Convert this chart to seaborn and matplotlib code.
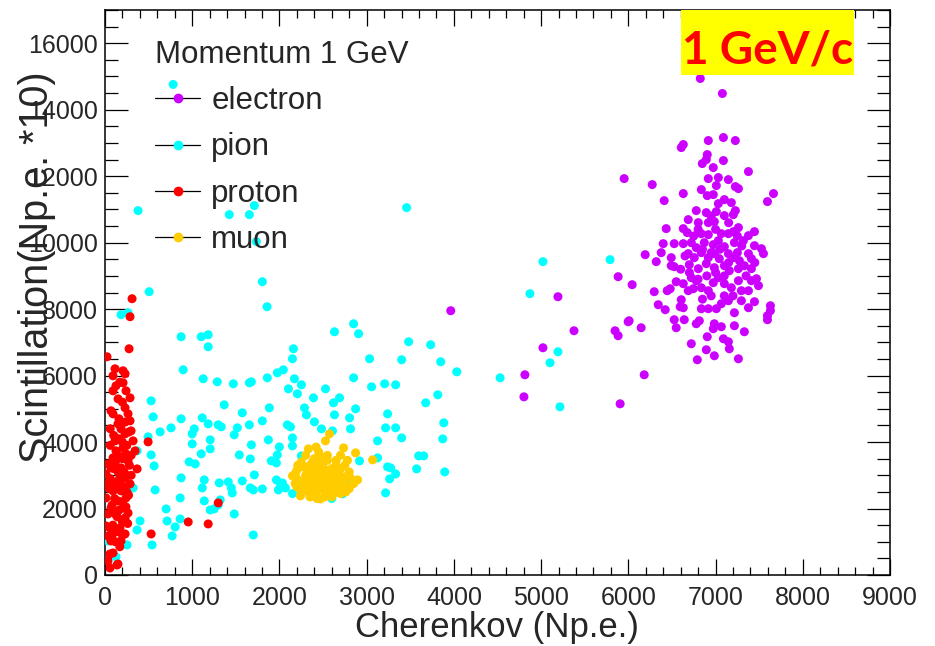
import numpy as np
import pandas as pd
import matplotlib
matplotlib.use("Agg")
import matplotlib.pyplot as plt
import seaborn as sns
from matplotlib.lines import Line2D
from matplotlib.patches import Rectangle
from matplotlib.ticker import MultipleLocator

# ---------------- data (Cherenkov Np.e., Scintillation Np.e.*10) ----------------
species = ["electron", "pion", "proton", "muon"]
colors = {"electron": "#CC00FF", "pion": "#00FFFF", "proton": "#FF0000", "muon": "#FFCC00"}

pion_pts = [
    (781, 14760), (379, 10964), (1425, 10843), (1655, 10843), (1712, 11114), (3458, 11054),
    (1735, 10030), (1804, 8825), (506, 8524), (1858, 8072), (184, 7831), (264, 7891),
    (873, 7169), (1103, 7169), (1183, 7229), (1183, 6867), (896, 6175), (1126, 5904),
    (1287, 5813), (1471, 5753), (1655, 5783), (1678, 5813), (1861, 5934), (1976, 6084),
    (2045, 6175), (2149, 6506), (2160, 6807), (2103, 5602), (529, 5241), (1367, 5120),
    (552, 4759), (873, 4699), (1115, 4729), (1574, 4879), (1884, 5030), (758, 4428),
    (632, 4307), (1023, 4397), (1000, 4247), (1183, 4548), (1298, 4518), (1333, 4458),
    (1517, 4428), (1655, 4518), (1804, 4638), (2091, 4518), (2126, 4458), (494, 4157),
    (1482, 4217), (1206, 4066), (1000, 3946), (1678, 3916), (1873, 4066), (1999, 3855),
    (2149, 4126), (2149, 3885), (368, 3735), (1206, 3795), (529, 3614), (1103, 3645),
    (1540, 3614), (1666, 3494), (1976, 3614), (1907, 3434), (1965, 3373), (965, 3404),
    (1034, 3343), (563, 3283), (1712, 3012), (873, 2922), (1138, 2861), (1310, 2771),
    (1413, 2801), (1448, 2620), (1459, 2470), (1574, 2831), (1666, 2620), (1700, 2560),
    (1804, 2590), (1965, 2861), (2034, 2771), (1988, 2560), (2068, 2620), (575, 2560),
    (1115, 2620), (862, 2319), (1138, 2229), (1321, 2259), (1298, 2108), (1206, 1958),
    (1252, 1988), (701, 1988), (1482, 1837), (712, 1626), (862, 1687), (402, 1626),
    (804, 1446), (368, 1355), (770, 1175), (540, 904), (1700, 1205), (253, 904),
    (34, 1024), (126, 542), (322, 2620),
    (2850, 7560), (2631, 7319), (2907, 7259), (3481, 7018), (3734, 6928), (3033, 6506),
    (3401, 6476), (3849, 6416), (4033, 6114), (4530, 5934), (2172, 5904), (2850, 5934),
    (2252, 5723), (2206, 5452), (2528, 5602), (3056, 5663), (3206, 5753), (3332, 5723),
    (2390, 5331), (2689, 5331), (2620, 5181), (3815, 5422), (3677, 5181), (2287, 5030),
    (2309, 4819), (2873, 5000), (2631, 4819), (3240, 4849), (2804, 4729), (2401, 4608),
    (3884, 4578), (2482, 4397), (2815, 4397), (3217, 4428), (3332, 4428), (2608, 4337),
    (3401, 4126), (3872, 4096), (3125, 4036), (2252, 3584), (3125, 3524), (2918, 3434),
    (3596, 3584), (3654, 3584), (3573, 3193), (3240, 3253), (3275, 3223), (3332, 3042),
    (3263, 2892), (3895, 3102), (3217, 2470), (2723, 2440), (2011, 2741), (2804, 2741),
    (2150, 2450), (2600, 2300),
    (5021, 9428), (5791, 9488), (4872, 8464), (5193, 6717), (5102, 6386), (5216, 5060),
]

proton_pts = [
    (310, 8313), (287, 7771), (276, 6807), (23, 6566), (115, 6205), (207, 6145), (230, 6054),
    (92, 5994), (126, 5693), (92, 5542), (207, 5783), (241, 5542), (287, 5331), (69, 4940),
    (92, 4849), (230, 5030), (264, 4849), (287, 4638), (149, 4548), (184, 4397), (230, 4247),
    (299, 4337), (322, 4036), (345, 3735), (115, 4036), (126, 3735), (92, 3524), (34, 3343),
    (69, 3223), (10, 3042), (207, 3825), (241, 3645), (264, 3434), (184, 3223), (368, 3193),
    (494, 4006), (34, 2741), (92, 2530), (11, 2319), (149, 2831), (230, 2922), (287, 2741),
    (184, 2530), (241, 2319), (149, 2229), (69, 2018), (34, 1837), (115, 1837), (207, 2018),
    (264, 1867), (230, 1717), (57, 1416), (11, 1476), (172, 1416), (230, 1235), (184, 1024),
    (69, 1024), (92, 663), (34, 422), (57, 211), (149, 331), (529, 1235), (34, 1175),
    (1298, 2169), (954, 1596), (1183, 1536), (138, 301), (57, 633),
    (100, 4200), (160, 4100), (200, 4000), (250, 3900), (60, 3900), (150, 3600), (200, 3500),
    (280, 3300), (120, 3400), (170, 3000), (220, 3100), (60, 2900), (120, 2700), (200, 2650),
    (250, 2500), (50, 2600), (110, 2300), (200, 2200), (270, 2400), (80, 2100), (160, 1950),
    (240, 2050), (140, 1750), (200, 1600), (90, 1500), (260, 1550), (130, 1300), (200, 1200),
    (80, 1200), (170, 850), (120, 1000), (240, 3000), (150, 3100), (300, 3600), (270, 4300),
    (160, 4700), (200, 5200), (170, 5800), (150, 5300), (230, 4600), (60, 4400), (300, 3000),
    (100, 3200), (180, 2850), (230, 2650),
]

electron_pts = [
    (3964, 7952), (5193, 8373), (5377, 7349), (5021, 6837), (4814, 6024), (4803, 5361),
    (5883, 8976), (6044, 8735), (5998, 7620), (6147, 7440), (5848, 7349), (5883, 7199),
    (6182, 6024), (5906, 5151), (6825, 14940), (7078, 14488), (6607, 12861), (6630, 12952),
    (6917, 13072), (7090, 13162), (7227, 13072), (6905, 12650), (6894, 12500), (6848, 12379),
    (6974, 12259), (7090, 12470), (7377, 12138), (5952, 11927), (6274, 11747), (6917, 11927),
    (7032, 11958), (7147, 11897), (6837, 11596), (7009, 11717), (7227, 11687), (7262, 11626),
    (6630, 11476), (6905, 11415), (6974, 11446), (7664, 11476), (7595, 11235), (6411, 11265),
    (7101, 11295), (7181, 11204), (7032, 11174), (6779, 10964), (6894, 10903), (7009, 10934),
    (7227, 10964), (7204, 10843), (6687, 10693), (7101, 10813), (6802, 10602), (6917, 10602),
    (6986, 10632), (6434, 10422), (6630, 10422), (6676, 10301), (7262, 10452), (7204, 10331),
    (7446, 10331), (7377, 10211), (6837, 10271), (6917, 10241), (7066, 10271), (7147, 10271),
    (6400, 9970), (6526, 9970), (6630, 9970), (6722, 10000), (6779, 9849), (6871, 10000),
    (6974, 9940), (7032, 10060), (7101, 9879), (7216, 10000), (7319, 10060), (7446, 9909),
    (7526, 9819), (7549, 9669), (6193, 9638), (6377, 9699), (6320, 9428), (6492, 9548),
    (6526, 9277), (6492, 9307), (6687, 9669), (6756, 9548), (6837, 9699), (6917, 9548),
    (6986, 9669), (7043, 9518), (7147, 9669), (7204, 9548), (7273, 9458), (7377, 9669),
    (7411, 9518), (6699, 9337), (6802, 9217), (6894, 9367), (6986, 9247), (7101, 9307),
    (7158, 9156), (7262, 9217), (7330, 9307), (7411, 9217), (6297, 8524), (6446, 8554),
    (6480, 8614), (6549, 8825), (6630, 8765), (6722, 8946), (6779, 8855), (6745, 8614),
    (6687, 8554), (6837, 8644), (6917, 8554), (6974, 8795), (7032, 8946), (7101, 8765),
    (7181, 8644), (7262, 8855), (7296, 8554), (7377, 8554), (7411, 8855), (7492, 8705),
    (7469, 8915), (6607, 8283), (6595, 8072), (6630, 8042), (6343, 8132), (6423, 7982),
    (6837, 8012), (6917, 8012), (7009, 8012), (7066, 8162), (7147, 8253), (7216, 7891),
    (7296, 8253), (7377, 8042), (7446, 8223), (7629, 8102), (7629, 7952), (7595, 7801),
    (7595, 7681), (6009, 7650), (6526, 7681), (6549, 7440), (6641, 7681), (6779, 7560),
    (6814, 7650), (6986, 7560), (7066, 7470), (6974, 7410), (7216, 7500), (7330, 7319),
    (6722, 6958), (6791, 6476), (6905, 7169), (6894, 6777), (6986, 6596), (7090, 7108),
    (7147, 7018), (7158, 6807), (7262, 6506),
    (6750, 10200), (6850, 9800), (6950, 9700), (7050, 9800), (7150, 9400), (7250, 9700),
    (7000, 9100), (6900, 9000), (7100, 9000), (7200, 8400), (6850, 8300), (6700, 9100),
    (6650, 9600), (7350, 9000), (7300, 9900), (6800, 10400), (7000, 10400), (7150, 10600),
    (6950, 10800), (7250, 10200), (6600, 9200), (7450, 9400), (7100, 8400), (6950, 8400),
    (6800, 8900),
]

muon_pts = [
    (2574, 4247), (2528, 4036), (2332, 3795), (2735, 3825), (2873, 3675), (3068, 3464),
    (2896, 2861), (2149, 2982), (2180, 2750), (2200, 3150), (2240, 2380), (2470, 2289),
    (2350, 2350), (2600, 2350), (2700, 2450), (2800, 2600), (2850, 2750), (2250, 3400),
    (2300, 3600), (2400, 3500), (2450, 3700), (2550, 3600), (2650, 3450), (2750, 3300),
    (2800, 3100), (2700, 2900), (2300, 3000), (2350, 2800), (2400, 3200), (2450, 2600),
    (2500, 3000), (2550, 2800), (2600, 3200), (2650, 2700), (2500, 3350), (2350, 3300),
    (2280, 2600), (2420, 2450), (2580, 2550), (2680, 3100), (2480, 2750), (2380, 2950),
    (2620, 2950), (2550, 3450), (2450, 3050), (2200, 2900), (2260, 2800), (2320, 3100),
    (2520, 2500), (2750, 2700), (2600, 3050), (2400, 2700), (2480, 3250), (2700, 3600),
    (2420, 3850), (2560, 2650), (2330, 2500), (2640, 2850), (2500, 2900), (2460, 3400),
    (2780, 3450), (2210, 3300), (2360, 3050), (2540, 3150), (2660, 2550),
    (2300, 2700), (2350, 2600), (2400, 2400), (2450, 2850), (2500, 2650), (2550, 2400),
    (2600, 2600), (2650, 3000), (2700, 2650), (2750, 2950), (2250, 2500), (2300, 2850),
    (2350, 3150), (2400, 3000), (2450, 3250), (2500, 3100), (2550, 2950), (2600, 2800),
    (2650, 3300), (2700, 3200), (2280, 3250), (2380, 3400), (2430, 2300), (2520, 2350),
    (2620, 2450), (2200, 2650), (2180, 3050), (2760, 2500), (2820, 2900), (2480, 3550),
]

x_ticks = [0, 1000, 2000, 3000, 4000, 5000, 6000, 7000, 8000, 9000]
y_ticks = [0, 2000, 4000, 6000, 8000, 10000, 12000, 14000, 16000]

# ---------------- build table ----------------
frames = []
for name, pts in [("pion", pion_pts), ("proton", proton_pts),
                  ("electron", electron_pts), ("muon", muon_pts)]:
    arr = np.array(pts, dtype=float)
    frames.append(pd.DataFrame({"cherenkov": arr[:, 0], "scint": arr[:, 1], "particle": name}))
df = pd.concat(frames, ignore_index=True)

# ---------------- style ----------------
sns.set_theme(style="white")
plt.rcParams["font.family"] = ["Liberation Sans", "DejaVu Sans"]

fig = plt.figure(figsize=(9.35, 6.46), dpi=100)
fig.patch.set_facecolor("white")
ax = fig.add_axes([105 / 935, 1 - 575 / 646, 785 / 935, 565 / 646])

sns.scatterplot(data=df, x="cherenkov", y="scint", hue="particle", palette=colors,
                s=42, linewidth=0, legend=False, ax=ax, zorder=3)

ax.set_xlim(0, 9000)
ax.set_ylim(0, 17000)
ax.set_xticks(x_ticks)
ax.set_yticks(y_ticks)
ax.set_xticklabels([str(v) for v in x_ticks])
ax.set_yticklabels([str(v) for v in y_ticks])
ax.xaxis.set_minor_locator(MultipleLocator(200))
ax.yaxis.set_minor_locator(MultipleLocator(500))
ax.set_xlabel("")
ax.set_ylabel("")

for sp in ax.spines.values():
    sp.set_color("black")
    sp.set_linewidth(1.1)

ax.tick_params(axis="both", which="both", direction="in", top=True, right=True,
               bottom=True, left=True, color="black", width=0.9, labelsize=18)
ax.tick_params(axis="x", which="major", length=11.5, pad=8)
ax.tick_params(axis="x", which="minor", length=6)
ax.tick_params(axis="y", which="major", length=16.5, pad=5)
ax.tick_params(axis="y", which="minor", length=9.4)

fig.text(497 / 935, 1 - 628 / 646, "Cherenkov (Np.e.)", fontsize=25, ha="center", va="center")
fig.text(37 / 935, 1 - 267 / 646, "Scintillation(Np.e. *10)", fontsize=28.5,
         rotation=90, ha="center", va="center")

# legend
handles = [Line2D([0], [0], color="black", lw=0.9, marker="o", markersize=7,
                  markerfacecolor=colors[n], markeredgewidth=0) for n in species]
leg = ax.legend(handles, species, title="Momentum 1 GeV", loc="upper left",
                bbox_to_anchor=(50 / 785, (575 - 40) / 565), frameon=False,
                fontsize=22.5, title_fontsize=22.5, handlelength=1.45,
                handletextpad=0.35, labelspacing=0.52, borderpad=0, borderaxespad=0,
                alignment="left")
leg.set_zorder(4)

# "1 GeV/c" box
fig.add_artist(Rectangle((681 / 935, 1 - 75 / 646), 173 / 935, 65 / 646,
                         transform=fig.transFigure, facecolor="#FFFF00",
                         edgecolor="none", zorder=5))
fig.text(767.5 / 935, 1 - 63 / 646, "1 GeV/c", color="#FF0000", fontsize=33,
         fontweight="bold", ha="center", va="baseline", zorder=6,
         family=["Lato", "DejaVu Sans"])

fig.savefig("out.png", dpi=100)
